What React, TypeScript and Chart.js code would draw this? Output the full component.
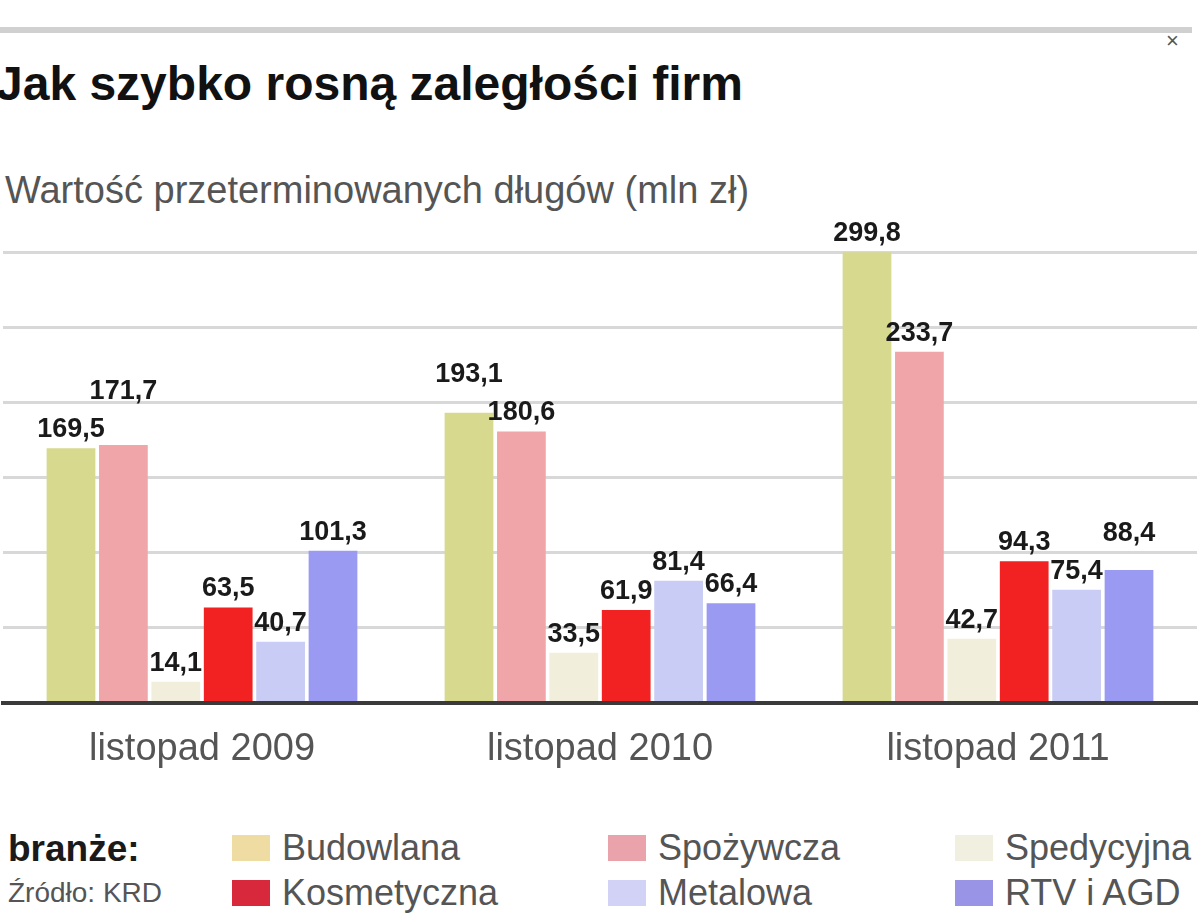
import React, { useEffect, useRef } from "react";
import { Chart, registerables } from "chart.js";

Chart.register(...registerables);

const categories = ["listopad 2009", "listopad 2010", "listopad 2011"];
const seriesNames = ["Budowlana", "Spożywcza", "Spedycyjna", "Kosmetyczna", "Metalowa", "RTV i AGD"];
const budowlana = [169.5, 193.1, 299.8];
const spozywcza = [171.7, 180.6, 233.7];
const spedycyjna = [14.1, 33.5, 42.7];
const kosmetyczna = [63.5, 61.9, 94.3];
const metalowa = [40.7, 81.4, 75.4];
const rtvAgd = [101.3, 66.4, 88.4];
const seriesValues = [budowlana, spozywcza, spedycyjna, kosmetyczna, metalowa, rtvAgd];
const barColors = ["#d6d98e", "#f0a6a8", "#f1eedc", "#f22222", "#c9cdf5", "#9a9af2"];
const swatchColors = ["#efdca2", "#eba3ab", "#f1efe0", "#d8283c", "#d2d2f6", "#9a94e6"];
const yTicks = [0, 50, 100, 150, 200, 250, 300];

const title = "Jak szybko rosną zaległości firm";
const subtitle = "Wartość przeterminowanych długów (mln zł)";
const legendTitle = "branże:";
const sourceText = "Źródło: KRD";

const FONT = "'Liberation Sans', Arial, sans-serif";

const fmt = (v: number) => v.toFixed(1).replace(".", ",");

const valueLabels = {
  id: "valueLabels",
  afterDatasetsDraw(chart: any) {
    const ctx = chart.ctx;
    ctx.save();
    ctx.font = `bold 27px ${FONT}`;
    ctx.fillStyle = "#1a1a1a";
    ctx.textAlign = "center";
    ctx.textBaseline = "bottom";
    const h = 21;
    const n = chart.data.labels.length;
    for (let j = 0; j < n; j++) {
      const items: any[] = chart.data.datasets.map((ds: any, i: number) => {
        const el = chart.getDatasetMeta(i).data[j];
        const txt = fmt(ds.data[j]);
        const w = ctx.measureText(txt).width;
        return { txt, x: el.x, y: el.y - 5, w, v: ds.data[j] };
      });
      for (let k = 1; k < items.length; k++) {
        const a = items[k - 1];
        const b = items[k];
        const hOverlap = b.x - b.w / 2 < a.x + a.w / 2;
        const vOverlap = Math.abs(a.y - b.y) < h;
        if (hOverlap && vOverlap) {
          if (b.v >= a.v) b.y = a.y - 38;
          else a.y = b.y - 38;
        }
      }
      items.forEach((it) => ctx.fillText(it.txt, it.x, it.y));
    }
    ctx.restore();
  },
};

export default function App() {
  const canvasRef = useRef<HTMLCanvasElement | null>(null);

  useEffect(() => {
    if (!canvasRef.current) return;
    const chart = new Chart(canvasRef.current, {
      type: "bar",
      data: {
        labels: categories,
        datasets: seriesNames.map((name, i) => ({
          label: name,
          data: seriesValues[i],
          backgroundColor: barColors[i],
          borderWidth: 0,
          categoryPercentage: 0.79,
          barPercentage: 0.93,
        })),
      },
      options: {
        animation: false,
        responsive: false,
        maintainAspectRatio: false,
        layout: { padding: { top: 52, left: 3, right: 3, bottom: 0 } },
        plugins: {
          legend: { display: false },
          tooltip: { enabled: false },
          title: { display: false },
        },
        scales: {
          x: {
            grid: { display: false },
            border: { display: true, color: "#3a3a3a", width: 4 },
            ticks: {
              color: "#555555",
              font: { family: FONT, size: 38 },
              padding: 16,
            },
            afterFit: (s: any) => {
              s.height = 77;
            },
          },
          y: {
            min: 0,
            max: 300,
            afterBuildTicks: (s: any) => {
              s.ticks = yTicks.map((v) => ({ value: v }));
            },
            ticks: { display: false },
            grid: {
              drawTicks: false,
              color: (c: any) => (c.tick && c.tick.value === 0 ? "#3a3a3a" : "#d8d8d8"),
              lineWidth: (c: any) => (c.tick && c.tick.value === 0 ? 4 : 3),
            },
            border: { display: false },
            afterFit: (s: any) => {
              s.width = 0;
            },
          },
        },
      },
      plugins: [valueLabels],
    });
    return () => chart.destroy();
  }, []);

  const legendCols = [232, 608, 955];
  const rowTops = [835, 880];

  return (
    <div
      style={{
        position: "fixed",
        left: 0,
        top: 0,
        width: 1200,
        height: 923,
        background: "#ffffff",
        overflow: "hidden",
        fontFamily: FONT,
      }}
    >
      <div
        style={{
          position: "absolute",
          left: 0,
          top: 27,
          width: 1192,
          height: 6,
          background: "#d0d0d0",
        }}
      />
      <div
        style={{
          position: "absolute",
          left: 1166,
          top: 30,
          fontSize: 22,
          lineHeight: "22px",
          color: "#555",
        }}
      >
        ×
      </div>
      <div
        style={{
          position: "absolute",
          left: -4,
          top: 60,
          fontSize: 48,
          lineHeight: "48px",
          fontWeight: "bold",
          color: "#111",
          whiteSpace: "nowrap",
        }}
      >
        {title}
      </div>
      <div
        style={{
          position: "absolute",
          left: 5,
          top: 171,
          fontSize: 38,
          lineHeight: "38px",
          color: "#555",
          whiteSpace: "nowrap",
        }}
      >
        {subtitle}
      </div>
      <canvas
        ref={canvasRef}
        width={1200}
        height={580}
        style={{ position: "absolute", left: 0, top: 200, width: 1200, height: 580 }}
      />
      <div
        style={{
          position: "absolute",
          left: 8,
          top: 830,
          fontSize: 37,
          lineHeight: "37px",
          fontWeight: "bold",
          color: "#1a1a1a",
          whiteSpace: "nowrap",
        }}
      >
        {legendTitle}
      </div>
      <div
        style={{
          position: "absolute",
          left: 8,
          top: 879,
          fontSize: 28,
          lineHeight: "28px",
          color: "#555",
          whiteSpace: "nowrap",
        }}
      >
        {sourceText}
      </div>
      {seriesNames.map((name, i) => {
        const col = i % 3;
        const row = Math.floor(i / 3);
        return (
          <React.Fragment key={name}>
            <div
              style={{
                position: "absolute",
                left: legendCols[col],
                top: rowTops[row],
                width: 38,
                height: 26,
                background: swatchColors[i],
              }}
            />
            <div
              style={{
                position: "absolute",
                left: legendCols[col] + 50,
                top: rowTops[row] - 5,
                fontSize: 36,
                lineHeight: "36px",
                color: "#555",
                whiteSpace: "nowrap",
              }}
            >
              {name}
            </div>
          </React.Fragment>
        );
      })}
    </div>
  );
}
